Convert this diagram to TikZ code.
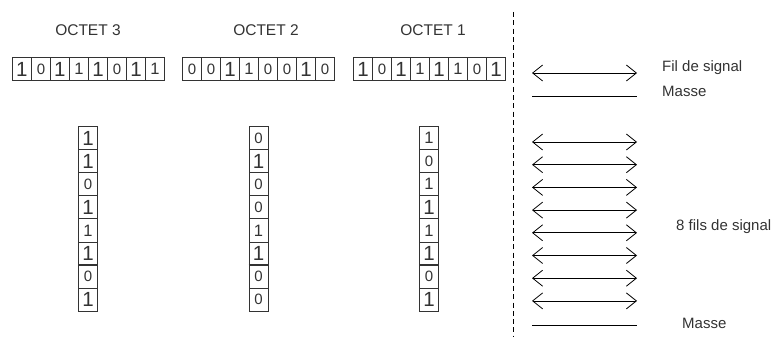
\documentclass[tikz,border=0pt]{standalone}
\usepackage{fontspec}
\setmainfont{Liberation Sans}
\usetikzlibrary{arrows.meta}

% digit glyphs used in the bit cells
\newcommand\cellB{{\fontsize{20.5}{20.5}\selectfont 1}}
\newcommand\cellS{{\fontsize{16.5}{16.5}\selectfont 1}}
\newcommand\cellZ{{\fontsize{15}{15}\selectfont 0}}

\definecolor{ink}{HTML}{333333}

\tikzset{
  bitcell/.style={draw=ink, line width=0.9pt, inner sep=0pt,
    minimum width=19pt, minimum height=23pt, text=ink},
  rowcell/.style={bitcell, minimum height=23pt},
  colcell/.style={bitcell, minimum height=23.1pt},
  label/.style={text=ink, font=\fontsize{15}{15}\selectfont, inner sep=0pt},
  octet/.style={label, font=\fontsize{15.5}{15.5}\selectfont},
  wire/.style={draw=black, line width=0.8pt,
    {Straight Barb[length=10pt,width=16pt,line width=0.8pt]}-{Straight Barb[length=10pt,width=16pt,line width=0.8pt]}},
  ground/.style={draw=black, line width=0.9pt},
  separator/.style={draw=black, line width=1pt, dash pattern=on 5pt off 3.3pt}
}

\begin{document}
\begin{tikzpicture}[x=1pt,y=-1pt]
  \useasboundingbox (0,0) rectangle (773,337);

  % octet titles
  \node[octet] (t3) at (88,30) {OCTET 3};
  \node[octet] (t2) at (266,30) {OCTET 2};
  \node[octet] (t1) at (433,30) {OCTET 1};

  % parallel rows of bits
  \foreach \d [count=\i] in {B,Z,B,S,B,Z,B,S}
    \node[rowcell, anchor=north west] (r3-\i) at ({12+19*(\i-1)},57) {\csname cell\d\endcsname};
  \foreach \d [count=\i] in {Z,Z,B,S,Z,Z,B,Z}
    \node[rowcell, anchor=north west] (r2-\i) at ({182+19*(\i-1)},57) {\csname cell\d\endcsname};
  \foreach \d [count=\i] in {B,Z,B,S,B,S,Z,B}
    \node[rowcell, anchor=north west] (r1-\i) at ({353+19*(\i-1)},57) {\csname cell\d\endcsname};

  % the same octets as columns
  \foreach \d [count=\i] in {B,B,Z,B,S,B,Z,B}
    \node[colcell, anchor=north west] (c3-\i) at (78,{126+23.1*(\i-1)}) {\csname cell\d\endcsname};
  \foreach \d [count=\i] in {Z,B,Z,Z,S,B,Z,Z}
    \node[colcell, anchor=north west] (c2-\i) at (248.5,{126+23.1*(\i-1)}) {\csname cell\d\endcsname};
  \foreach \d [count=\i] in {S,Z,S,B,S,B,Z,B}
    \node[colcell, anchor=north west] (c1-\i) at (419,{126+23.1*(\i-1)}) {\csname cell\d\endcsname};

  % heavier border between the sixth and seventh bit
  \foreach \c in {c3,c2,c1}
    \draw[ink, line width=1.6pt] (\c-7.north west) -- (\c-7.north east);

  % separator between data and link
  \coordinate (sepTop) at (513,12);
  \coordinate (sepBot) at (513,337);
  \draw[separator] (sepTop) -- (sepBot);

  % serial link: one signal wire and ground
  \coordinate (sA) at (532,73);
  \coordinate (sB) at (637,73);
  \draw[wire] (sA) -- (sB);
  \coordinate (gA) at (532,96);
  \coordinate (gB) at (637,96);
  \draw[ground] (gA) -- (gB);
  \node[label, anchor=west] (fil) at (662,68) {Fil de signal};
  \node[label, anchor=west] (masse1) at (662,91) {Masse};

  % parallel link: eight signal wires and ground
  \foreach \k in {1,...,8} {
    \coordinate (pA\k) at (532,{142+22.7*(\k-1)});
    \coordinate (pB\k) at (637,{142+22.7*(\k-1)});
    \draw[wire] (pA\k) -- (pB\k);
  }
  \coordinate (qA) at (532,325);
  \coordinate (qB) at (637,325);
  \draw[ground] (qA) -- (qB);
  \node[label, anchor=west] (fils) at (676,227) {8 fils de signal};
  \node[label, anchor=west] (masse2) at (682,323) {Masse};
\end{tikzpicture}
\end{document}
